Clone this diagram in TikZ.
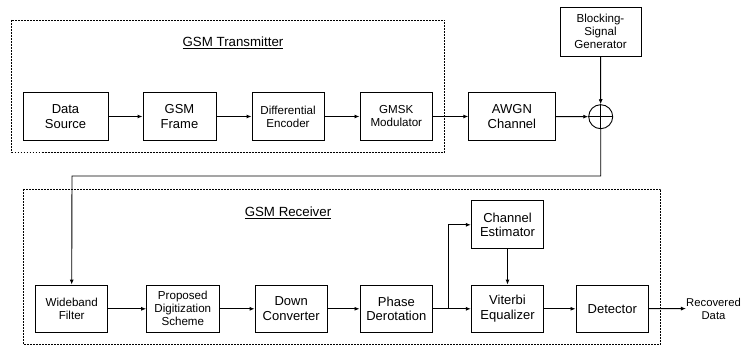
\documentclass[tikz,border=0pt]{standalone}
\usepackage{fontspec}
\setmainfont{Liberation Sans}
\usetikzlibrary{arrows.meta}
\begin{document}
\begin{tikzpicture}[x=1pt,y=-1pt,
  blk/.style={draw,line width=0.9pt,minimum height=47.5pt,align=center,inner sep=1pt,font=\fontsize{13}{14.5}\selectfont},
  sblk/.style={blk,font=\fontsize{11.6}{13}\selectfont},
  grp/.style={draw,line width=0.7pt,dash pattern=on 1.8pt off 1.2pt},
  ttl/.style={font=\fontsize{13.3}{15}\selectfont},
  arr/.style={line width=0.9pt,-{Latex[length=5pt,width=4pt]}},
  ln/.style={line width=0.9pt}]
\useasboundingbox (0,0) rectangle (744,347);
% group boxes
\draw[grp] (11.7,20) rectangle (444.7,152);
\draw[grp] (23.3,189) rectangle (660.7,344.3);
\node[ttl] (tt) at (233,43) {\underline{GSM Transmitter}};
\node[ttl] (rt) at (288,213) {\underline{GSM Receiver}};
% transmitter row
\node[blk,minimum width=85pt] (ds) at (65.5,116.5) {Data\\Source};
\node[blk,minimum width=73pt] (gf) at (179.5,116.5) {GSM\\Frame};
\node[sblk,minimum width=72pt] (de) at (288,116.5) {Differential\\Encoder};
\node[sblk,minimum width=72.7pt] (gm) at (396.3,116.5) {GMSK\\Modulator};
\node[blk,minimum width=86.3pt] (aw) at (511.9,116.5) {AWGN\\Channel};
\node[sblk,minimum width=81pt,minimum height=48.7pt] (bs) at (600.5,31.7) {Blocking-\\Signal\\Generator};
\node[draw,circle,line width=0.9pt,minimum size=24pt,inner sep=0pt] (sum) at (600.7,116.7) {};
\draw[ln] (sum.north) -- (sum.south);
\draw[ln] (sum.west) -- (sum.east);
\draw[arr] (ds) -- (gf);
\draw[arr] (gf) -- (de);
\draw[arr] (de) -- (gm);
\draw[arr] (gm) -- (aw);
\draw[arr] (aw) -- (sum);
\draw[arr] (bs) -- (sum);
% receiver row
\node[sblk,minimum width=72pt] (wf) at (71.7,308.8) {Wideband\\Filter};
\node[sblk,minimum width=72.3pt] (pd) at (182.8,308.8) {Proposed\\Digitization\\Scheme};
\node[blk,minimum width=72.3pt] (dc) at (291.2,308.8) {Down\\Converter};
\node[blk,minimum width=72.7pt] (ph) at (396.3,308.8) {Phase\\Derotation};
\node[blk,minimum width=72.4pt] (ve) at (507.5,308.8) {Viterbi\\Equalizer};
\node[blk,minimum width=72.4pt,minimum height=48.3pt] (ce) at (507.5,224.8) {Channel\\Estimator};
\node[blk,minimum width=72.7pt] (dt) at (612.3,308.8) {Detector};
\node[font=\fontsize{11.3}{13}\selectfont,align=center,inner sep=0pt] (rd) at (713.5,308.5) {Recovered\\Data};
\coordinate (fb) at (72,176);
\draw[arr] (sum.south) |- (fb) -- (wf.north);
\draw[arr] (wf) -- (pd);
\draw[arr] (pd) -- (dc);
\draw[arr] (dc) -- (ph);
\draw[arr] (ph) -- (ve);
\coordinate (br) at (448,308.8);
\draw[arr] (br) |- (ce.west);
\draw[arr] (ce) -- (ve);
\draw[arr] (ve) -- (dt);
\draw[arr] (dt) -- (rd);
\end{tikzpicture}
\end{document}
